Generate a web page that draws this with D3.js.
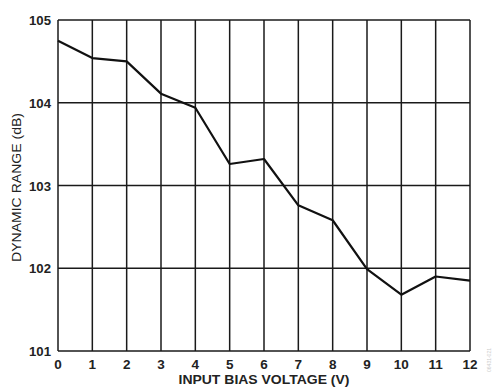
<!DOCTYPE html>
<html><head><meta charset="utf-8">
<script src="https://cdn.jsdelivr.net/npm/d3@7"></script>
<style>body{margin:0;background:#fff;} svg{display:block;}</style>
</head><body>
<svg id="c" width="494" height="388"></svg>
<script>
const voltages = [0,1,2,3,4,5,6,7,8,9,10,11,12];
const dynamicRange = [104.75,104.54,104.50,104.11,103.94,103.26,103.32,102.76,102.58,101.99,101.68,101.90,101.85];
const xTicks = [0,1,2,3,4,5,6,7,8,9,10,11,12];
const yTicks = [101,102,103,104,105];
const xTitle = "INPUT BIAS VOLTAGE (V)";
const yTitle = "DYNAMIC RANGE (dB)";

const svg = d3.select("#c");
const m = {l:58, r:470, t:20, b:351};
const x = d3.scaleLinear().domain([0,12]).range([m.l, m.r]);
const y = d3.scaleLinear().domain([101,105]).range([m.b, m.t]);
const font = "'Liberation Sans', Arial, sans-serif";

// grid
svg.append("g").selectAll("line.v").data(xTicks).join("line")
  .attr("x1", d=>x(d)).attr("x2", d=>x(d)).attr("y1", m.t).attr("y2", m.b)
  .attr("stroke", "#1a1a1a").attr("stroke-width", 1.5);
svg.append("g").selectAll("line.h").data(yTicks).join("line")
  .attr("x1", m.l).attr("x2", m.r).attr("y1", d=>y(d)).attr("y2", d=>y(d))
  .attr("stroke", "#1a1a1a").attr("stroke-width", 1.5);

// data line
svg.append("path").datum(voltages.map((v,i)=>[v, dynamicRange[i]]))
  .attr("d", d3.line().x(d=>x(d[0])).y(d=>y(d[1])))
  .attr("fill","none").attr("stroke","#111").attr("stroke-width",2.2)
  .attr("stroke-linejoin","round");

// tick labels
svg.append("g").selectAll("text").data(xTicks).join("text")
  .attr("x", d=>x(d)).attr("y", 369).attr("text-anchor","middle")
  .attr("font-family", font).attr("font-weight","bold").attr("font-size", 13.5)
  .attr("fill","#222").text(d=>d);
svg.append("g").selectAll("text").data(yTicks).join("text")
  .attr("x", 51).attr("y", d=>y(d)+5).attr("text-anchor","end")
  .attr("font-family", font).attr("font-weight","bold").attr("font-size", 13.5)
  .attr("fill","#222").attr("textLength", 22).attr("lengthAdjust","spacingAndGlyphs").text(d=>d);

// titles
svg.append("text").attr("x", (m.l+m.r)/2).attr("y", 384).attr("text-anchor","middle")
  .attr("font-family", font).attr("font-weight","bold").attr("font-size", 12.5)
  .attr("fill","#222").attr("textLength", 171).attr("lengthAdjust","spacingAndGlyphs").text(xTitle);
svg.append("text").attr("transform", `translate(21,${(m.t+m.b)/2+2}) rotate(-90)`)
  .attr("text-anchor","middle")
  .attr("font-family", font).attr("font-size", 12).attr("fill","#222")
  .attr("textLength", 149).attr("lengthAdjust","spacingAndGlyphs").text(yTitle);

// faint figure code
svg.append("text").attr("transform", "translate(491,360) rotate(-90)")
  .attr("text-anchor","middle").attr("font-family", font).attr("font-size", 5)
  .attr("fill","#ccc").text("06431-021");
</script>
</body></html>
